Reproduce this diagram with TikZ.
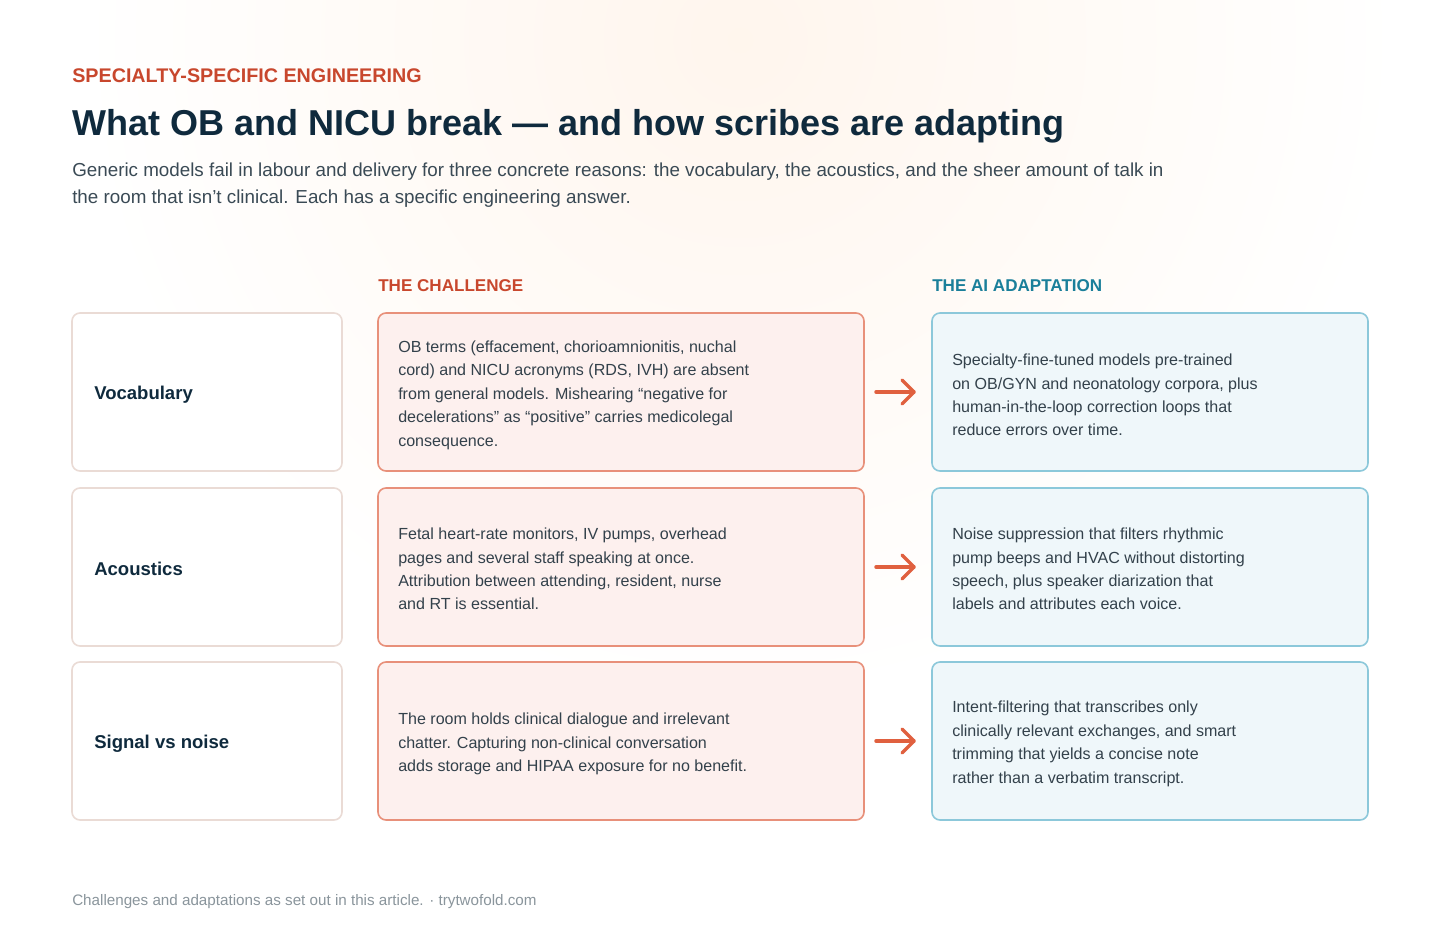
\documentclass[tikz,border=0pt]{standalone}
\usepackage{fontspec}
\setmainfont{Liberation Sans}
\begin{document}
\definecolor{kick}{HTML}{C8472D}
\definecolor{navy}{HTML}{0F2A3D}
\definecolor{sub}{HTML}{3A4A55}
\definecolor{teal}{HTML}{1A7F9A}
\definecolor{lborder}{HTML}{EADBD5}
\definecolor{cfill}{HTML}{FDF0EE}
\definecolor{cborder}{HTML}{E8907A}
\definecolor{afill}{HTML}{EFF7FA}
\definecolor{aborder}{HTML}{8CC8DA}
\definecolor{arr}{HTML}{E0603F}
\definecolor{foot}{HTML}{8A959C}
\definecolor{body}{HTML}{33414B}
\begin{tikzpicture}[x=0.75pt,y=-0.75pt,
  box/.style={draw,line width=1.2pt,rounded corners=6pt},
  lbox/.style={box,draw=lborder,fill=white},
  cbox/.style={box,draw=cborder,fill=cfill},
  abox/.style={box,draw=aborder,fill=afill},
  lab/.style={anchor=west,inner sep=0,font=\fontsize{13.9}{16}\selectfont\bfseries,text=navy},
  txt/.style={anchor=west,inner sep=0,align=left,font=\fontsize{12.05}{17.6}\selectfont,text=body},
  hdr/.style={anchor=base west,inner sep=0,font=\fontsize{12.8}{14}\selectfont\bfseries},
  ar/.style={draw=arr,line width=2.6pt,line cap=round,line join=round}]
\useasboundingbox (0,0) rectangle (1440,936);
\fill[white] (0,0) rectangle (1440,936);
\begin{scope}
\clip (0,0) rectangle (1440,936);
\shade[inner color=red!6!orange!7,outer color=white] (740,40) circle (660);
\end{scope}
\node[hdr,text=kick,font=\fontsize{14.8}{16}\selectfont\bfseries] (kick) at (72,82) {SPECIALTY-SPECIFIC ENGINEERING};
\node[anchor=base west,inner sep=0,text=navy,font=\fontsize{27}{30}\selectfont\bfseries] (title) at (72,135) {What OB and NICU break — and how scribes are adapting};
\node[anchor=base west,inner sep=0,align=left,text=sub,font=\fontsize{14.1}{20.2}\selectfont] (subt) at (72,203) {Generic models fail in labour and delivery for three concrete reasons: the vocabulary, the acoustics, and the sheer amount of talk in\\the room that isn{\char"0027}t clinical. Each has a specific engineering answer.};
\node[hdr,text=kick] (h1) at (378,291) {THE CHALLENGE};
\node[hdr,text=teal] (h2) at (932,291) {THE AI ADAPTATION};
\foreach \i/\y in {1/313,2/488,3/662}{
  \draw[lbox] (72,\y) rectangle (342,\y+158);
  \draw[cbox] (378,\y) rectangle (864,\y+158);
  \draw[abox] (932,\y) rectangle (1368,\y+158);
  \coordinate (a\i) at (876,\y+79);
  \coordinate (b\i) at (914,\y+79);
  \draw[ar] (a\i) -- (b\i);
  \draw[ar] (902,\y+67) -- (b\i) -- (902,\y+91);
}
\node[lab] (l1) at (94,395) {Vocabulary};
\node[lab] (l2) at (94,569) {Acoustics};
\node[lab] (l3) at (94,744) {Signal vs noise};
\node[txt] (c1) at (398,395) {OB terms (effacement, chorioamnionitis, nuchal\\cord) and NICU acronyms (RDS, IVH) are absent\\from general models. Mishearing “negative for\\decelerations” as “positive” carries medicolegal\\consequence.};
\node[txt] (c2) at (398,569) {Fetal heart-rate monitors, IV pumps, overhead\\pages and several staff speaking at once.\\Attribution between attending, resident, nurse\\and RT is essential.};
\node[txt] (c3) at (398,744) {The room holds clinical dialogue and irrelevant\\chatter. Capturing non-clinical conversation\\adds storage and HIPAA exposure for no benefit.};
\node[txt] (r1) at (952,395) {Specialty-fine-tuned models pre-trained\\on OB/GYN and neonatology corpora, plus\\human-in-the-loop correction loops that\\reduce errors over time.};
\node[txt] (r2) at (952,569) {Noise suppression that filters rhythmic\\pump beeps and HVAC without distorting\\speech, plus speaker diarization that\\labels and attributes each voice.};
\node[txt] (r3) at (952,744) {Intent-filtering that transcribes only\\clinically relevant exchanges, and smart\\trimming that yields a concise note\\rather than a verbatim transcript.};
\node[anchor=base west,inner sep=0,text=foot,font=\fontsize{11.4}{13}\selectfont] (ft) at (72,905) {Challenges and adaptations as set out in this article. · trytwofold.com};
\end{tikzpicture}
\end{document}
